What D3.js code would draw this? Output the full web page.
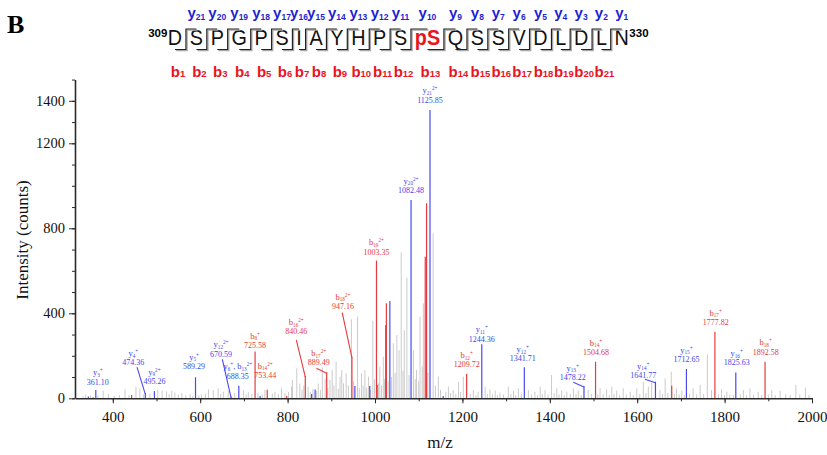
<!DOCTYPE html>
<html><head><meta charset="utf-8">
<script src="https://cdn.jsdelivr.net/npm/d3@7"></script>
<style>body{margin:0;background:#fff;} svg{display:block}</style>
</head><body>
<svg id="c" width="827" height="455"></svg>
<script>
// ---------------- DATA ----------------
const residues = ["D","S","P","G","P","S","I","A","Y","H","P","S","pS","Q","S","S","V","D","L","D","L","N"];
const seqStart = 309, seqEnd = 330;
const yIonNums = d3.range(21, 0, -1);   // y21 ... y1 (cleavage 0..20)
const bIonNums = d3.range(1, 22);       // b1 ... b21

const xTickValues = [400, 600, 800, 1000, 1200, 1400, 1600, 1800, 2000];
const xMinorValues = d3.range(400, 2001, 100);
const yTickValues = [0, 400, 800, 1200, 1400];
const yMinorValues = d3.range(0, 1501, 100);

// unassigned peaks (m/z, intensity)
const grayMz = [332,338,349,366,378,390,403,415,428,437,453,462,470,485,503,513,523,529,535,542,550,558,567,577,583,597,603,612,619,630,641,647,653,664,679,699,705,710,718,732,742,748,765,771,779,786,794,802,809,
 811,821,828,833,837,847,852,858,866,870,875,879.5,886,892,897,902,906,911,916,920,924,928,934,939,946,951,960,964,969,973,977,981,985,990,995,999,1008,1011,1015,1019,1022,1030,1038,1042,1046,1050,1055,1060,1064,1067,1073,1078,1088,1092,1095,1100,1103,1108,1110.6,1121,1133,1138,1145,1150,1162,1168,1173,1179,1185,1191,1196,1202,
 1218,1225,1231,1236,1252,1257,1263,1269,1275,1280,1286,1294,1305,1311,1317,1322,1328,1335,1351,1358,1366,1372,1378,1383,1389,1396,1404,1410,1416,1421,1427,1433,1439,1447,1454,1460,1465,1472,1488,1495,1510,1515,1522,1530,1536,1542,1547,1553,1560,1568,1575,1584,1591,1599,1606,1614,1620,1625.5,1633,1652,1658,1664,1670,1678,1685,1690,1696,1702,1708,1720,1728,1736,1744,1752,1760.5,1770,1786,1793,1800,1805,1812,1820,1836,1843,1850,1858,1866,1877,1885,1900,1908,1916,1927,1940,1950,1963,1972,1985,1993];
const grayInt = [10,18,12,14,36,20,12,16,42,14,55,47,18,22,42,36,33,20,36,27,18,24,15,20,12,14,17,22,42,39,47,20,31,36,25,39,18,31,20,26,18,39,22,31,18,47,25,30,55,
 86,141,70,40,60,55,30,45,35,70,40,146,94,50,86,133,60,172,45,102,133,70,118,60,372,80,384,50,118,60,133,50,102,40,364,90,70,149,60,196,90,80,100,259,120,298,227,687,130,321,568,110,227,90,133,80,384,150,447,120,776,60,102,40,30,55,25,39,20,78,30,102,
 20,39,15,31,55,20,42,18,36,15,27,18,55,20,36,15,47,20,39,18,31,15,55,20,39,18,110,25,47,18,36,15,31,20,47,18,36,15,39,20,18,47,20,42,15,55,20,36,15,47,18,31,15,47,20,78,25,55,74,39,20,94,25,125,20,47,18,36,15,20,47,18,63,20,207,39,18,42,15,31,18,15,18,39,15,47,18,31,15,18,39,15,36,20,15,63,18,50,15];

// b-ion peaks
const bMz  = [355, 443, 725.58, 753.44, 798, 840.46, 889.49, 947.16, 1003.35, 1005, 1024.5, 1026, 1115, 1118, 1209.72, 1504.68, 1679, 1777.82, 1892.58];
const bInt = [5, 15, 220, 40, 11, 105, 123, 196, 648, 63, 345, 447, 666, 918, 114, 172, 59, 313, 172];

// y-ion peaks
const yMz  = [344, 361.10, 474.36, 495.26, 589.29, 670.59, 688.35, 737, 855, 863, 954, 988, 1034, 1082.48, 1125.85, 1156, 1244.36, 1341.71, 1478.22, 1641.77, 1712.65, 1825.63];
const yInt = [8, 39, 24, 34, 99, 8, 59, 11, 20, 42, 58, 58, 458, 933, 1357, 11, 254, 146, 58, 78, 138, 122];

// annotations
const annMz = [361.10, 474.36, 495.26, 589.29, 670.59, 688.35, 725.58, 753.44, 840.46, 889.49, 947.16, 1003.35, 1082.48, 1125.85, 1209.72, 1244.36, 1341.71, 1478.22, 1504.68, 1641.77, 1712.65, 1777.82, 1825.63, 1892.58];
const annIons = [
 [["y","3","+"]], [["y","4","+"]], [["y","9","2+"]], [["y","5","+"]], [["y","12","2+"]],
 [["y","6","+"], ", ", ["b","13","2+"]],
 [["b","8","+"]], [["b","14","2+"]], [["b","16","2+"]], [["b","17","2+"]], [["b","18","2+"]], [["b","19","2+"]],
 [["y","20","2+"]], [["y","21","2+"]], [["b","12","+"]], [["y","11","+"]], [["y","12","+"]], [["y","13","+"]],
 [["b","14","+"]], [["y","14","+"]], [["y","15","+"]], [["b","17","+"]], [["y","16","+"]], [["b","18","+"]]
];
// layout: [dx of label centre from peak, dy of 2nd baseline from peak top, pointer start dx, pointer start dy] (null = no pointer)
const annLayout = [
 [2,-5.5,null,null],[-12,-28,3.7,2],[0,-7,null,null],[-1.5,-8.3,null,null],[-10,-40,1.3,2.8],
 [-1,-7,null,null],[0,-3.5,null,null],[-2,-12,null,null],[-9,-41.5,0,5.5],[-8,-6.7,-2.3,2.8],[-9,-47.7,-0.7,3.7],[0,-6,null,null],
 [0,-7,null,null],[0,-7.4,null,null],[0,-6.6,null,null],[0,-2.8,null,null],[-1.6,-5.8,null,null],[-11.3,-6,0.6,2.3],
 [0.5,-6.7,null,null],[-12.2,-3.7,1.7,1.3],[0,-7,null,null],[0.8,-6.8,null,null],[0.9,-6.9,null,null],[0.6,-7.2,null,null]
];

// ---------------- DRAW ----------------
const svg = d3.select("#c");
const serif = "'Liberation Serif','Times New Roman',Times,serif";
const sans = "'Liberation Sans',Arial,Helvetica,sans-serif";
const BLUE = "#4a4af2", RED = "#e83a3e", GRAY = "#cbcbcb";
const BLUE_T = "#3b47ec", RED_T = "#e63838";

const x = d3.scaleLinear().domain([313.5, 2000]).range([75, 812]);
const y = d3.scaleLinear().domain([0, 1500]).range([398.3, 79.55]);

// panel letter
svg.append("text").attr("x", 7).attr("y", 33).attr("font-family", serif)
  .attr("font-weight", "bold").attr("font-size", 26).text("B");

// peaks
const peaks = svg.append("g");
function drawPeaks(mz, inten, color, w) {
  peaks.append("g").selectAll("line").data(d3.zip(mz, inten)).join("line")
    .attr("x1", d => x(d[0])).attr("x2", d => x(d[0]))
    .attr("y1", y(0)).attr("y2", d => y(d[1]))
    .attr("stroke", color).attr("stroke-width", w);
}
drawPeaks(grayMz, grayInt, GRAY, 1);
drawPeaks(bMz, bInt, RED, 1.2);
drawPeaks(yMz, yInt, BLUE, 1.2);

// axes
const xAxis = svg.append("g").attr("transform", `translate(0,${y(0)})`)
  .call(d3.axisBottom(x).tickValues(xTickValues).tickSize(5).tickSizeOuter(0).tickFormat(d3.format("d")));
svg.append("g").attr("transform", `translate(0,${y(0)})`)
  .call(d3.axisBottom(x).tickValues(xMinorValues).tickSize(3).tickSizeOuter(0).tickFormat(""))
  .call(g => g.select(".domain").remove());
xAxis.selectAll("text").attr("font-family", serif).attr("font-size", 15).attr("fill", "#111").attr("dy", "1.05em");
const yAxis = svg.append("g").attr("transform", `translate(${x.range()[0]},0)`)
  .call(d3.axisLeft(y).tickValues(yTickValues).tickSize(6).tickSizeOuter(0).tickFormat(d3.format("d")));
svg.append("g").attr("transform", `translate(${x.range()[0]},0)`)
  .call(d3.axisLeft(y).tickValues(yMinorValues).tickSize(3).tickSizeOuter(0).tickFormat(""))
  .call(g => g.select(".domain").remove());
yAxis.selectAll("text").attr("font-family", serif).attr("font-size", 14.5).attr("fill", "#111").attr("x", -10);
svg.selectAll(".domain").attr("stroke", "#2a2a2a").attr("stroke-width", 1.6);
svg.selectAll(".tick line").attr("stroke", "#2a2a2a").attr("stroke-width", 1);

svg.append("text").attr("x", 440).attr("y", 448).attr("text-anchor", "middle")
  .attr("font-family", serif).attr("font-size", 17).attr("fill", "#111").text("m/z");
svg.append("text").attr("transform", "translate(28,240) rotate(-90)").attr("text-anchor", "middle")
  .attr("font-family", serif).attr("font-size", 17).attr("fill", "#111").text("Intensity (counts)");

// annotations
function peakInt(mz) {
  let i = bMz.indexOf(mz); if (i >= 0) return bInt[i];
  i = yMz.indexOf(mz); return yInt[i];
}
const annG = svg.append("g");
annMz.forEach((mz, i) => {
  const parts = annIons[i];
  const col = parts[0][0] === "y" ? BLUE_T : RED_T;
  const lcol = parts[0][0] === "y" ? BLUE : RED;
  const [dx, dy, pdx, pdy] = annLayout[i];
  const px = x(mz), py = y(peakInt(mz));
  const cx = px + dx, b2 = py + dy, b1 = b2 - 9.3;
  const t1 = annG.append("text").attr("x", cx).attr("y", b1).attr("text-anchor", "middle")
    .attr("font-family", serif).attr("font-size", 8).attr("fill", col);
  let shift = 0;
  parts.forEach(p => {
    if (typeof p === "string") { t1.append("tspan").attr("dy", -shift).text(p); shift = 0; return; }
    t1.append("tspan").attr("dy", -shift).attr("font-size", 8.5).text(p[0]);
    t1.append("tspan").attr("dy", 1.6).attr("font-size", 5.2).text(p[1]);
    t1.append("tspan").attr("dy", -4.6).attr("font-size", 5.2).text(p[2]);
    shift = -3.0;
  });
  annG.append("text").attr("x", cx).attr("y", b2).attr("text-anchor", "middle")
    .attr("font-family", serif).attr("font-size", 8).attr("fill", col).text(mz.toFixed(2));
  if (pdx !== null) {
    annG.append("line").attr("x1", cx + pdx).attr("y1", b2 + pdy).attr("x2", px).attr("y2", py + 1)
      .attr("stroke", lcol).attr("stroke-width", 1.1);
  }
});

// ---------------- sequence header ----------------
const hdr = svg.append("g");
const SX = 0.88, baseY = 45, firstC = 175, lastC = 621.7;
const resT = hdr.selectAll("text.res").data(residues).join("text").attr("class", "res")
  .attr("font-family", sans).attr("font-size", 22.5)
  .attr("font-weight", d => d === "pS" ? "bold" : "normal")
  .attr("fill", d => d === "pS" ? "#e8141e" : "#111")
  .attr("text-anchor", "middle").text(d => d);
const widths = resT.nodes().map(n => n.getComputedTextLength() * SX);
let halfSum = 0;
for (let i = 0; i < widths.length - 1; i++) halfSum += (widths[i] + widths[i + 1]) / 2;
const gap = (lastC - firstC - halfSum) / (widths.length - 1);
const centers = [firstC];
for (let i = 1; i < widths.length; i++) centers.push(centers[i - 1] + (widths[i - 1] + widths[i]) / 2 + gap);
resT.attr("transform", (d, i) => `translate(${centers[i]},${baseY}) scale(${SX},1)`);

hdr.append("text").attr("x", centers[0] - widths[0] / 2 - 0.5).attr("y", 37).attr("text-anchor", "end")
  .attr("font-family", sans).attr("font-weight", "bold").attr("font-size", 11.5).text(seqStart);
hdr.append("text").attr("x", centers[centers.length - 1] + widths[widths.length - 1] / 2 + 0.5).attr("y", 37)
  .attr("font-family", sans).attr("font-weight", "bold").attr("font-size", 11.5).text(seqEnd);

// cleavage brackets
const cleav = d3.range(residues.length - 1);
const topY = 29, botY = 49.5;
function bracketPath(i, off) {
  const xv = (centers[i] + widths[i] / 2 + centers[i + 1] - widths[i + 1] / 2) / 2 + off;
  return `M${centers[i] + off},${botY + off}H${xv}V${topY + off}H${centers[i + 1] + off}`;
}
hdr.selectAll("path.sh").data(cleav).join("path").attr("d", i => bracketPath(i, 1.2))
  .attr("fill", "none").attr("stroke", "#a8a8a8").attr("stroke-width", 1.2);
hdr.selectAll("path.br").data(cleav).join("path").attr("d", i => bracketPath(i, 0))
  .attr("fill", "none").attr("stroke", "#222").attr("stroke-width", 1.2);

// y / b labels
cleav.forEach(i => {
  const ty = hdr.append("text").attr("x", centers[i + 1]).attr("y", 18).attr("text-anchor", "middle")
    .attr("font-family", sans).attr("font-weight", "bold").attr("fill", "#1f1fd2");
  ty.append("tspan").attr("font-size", 15).text("y");
  ty.append("tspan").attr("font-size", 8.5).attr("dy", 1.5).text(yIonNums[i]);
  const tb = hdr.append("text").attr("x", centers[i] + 3).attr("y", 76.5).attr("text-anchor", "middle")
    .attr("font-family", sans).attr("font-weight", "bold").attr("fill", "#e8141e");
  tb.append("tspan").attr("font-size", 15).text("b");
  tb.append("tspan").attr("font-size", 9.5).text(bIonNums[i]);
});
</script>
</body></html>
